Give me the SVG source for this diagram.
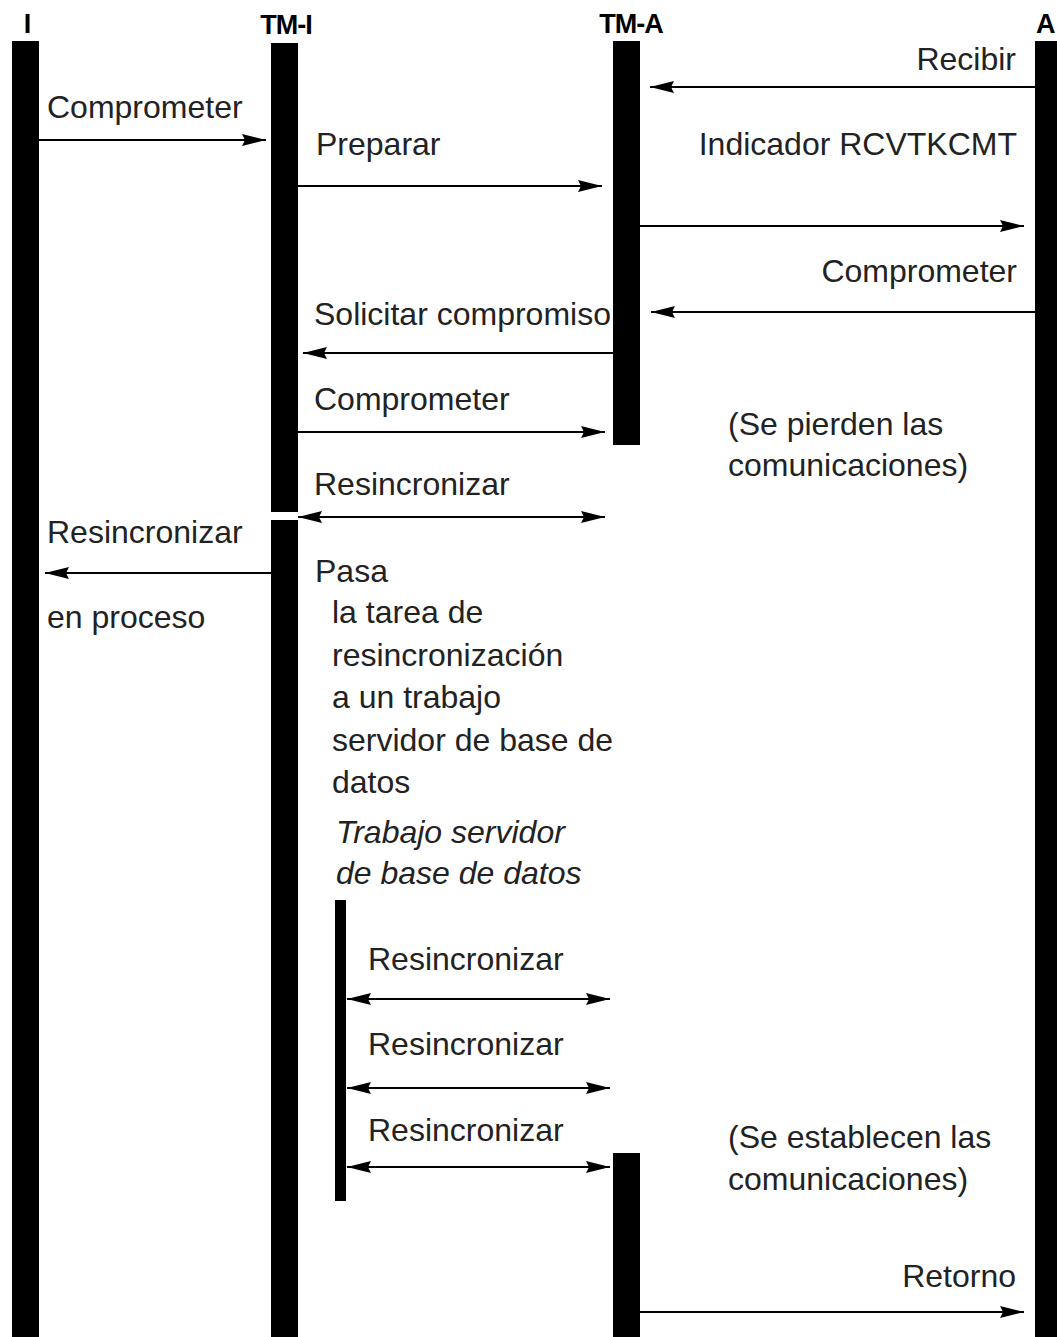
<svg xmlns="http://www.w3.org/2000/svg" width="1057" height="1337" viewBox="0 0 1057 1337">
<style>
.t{font-family:"Liberation Sans",Arial,sans-serif;font-size:32px;fill:#222}
.i{font-style:italic}
.h{font-family:"Liberation Sans",Arial,sans-serif;font-size:27px;font-weight:bold;fill:#000;letter-spacing:-1px}
.bar{fill:#000}
.c{stroke:#000;stroke-width:2;fill:none}
.e{marker-end:url(#ah)}
.s{marker-start:url(#ah)}
</style>
<defs>
<marker id="ah" viewBox="0 0 24 14" refX="24" refY="7" markerWidth="24" markerHeight="14" orient="auto-start-reverse" markerUnits="userSpaceOnUse">
<path d="M0,1 L24,7 L0,13 L3,7 Z" fill="#000"/>
</marker>
</defs>
<rect width="1057" height="1337" fill="#fff"/>

<g id="I">
<text class="h" x="27" y="33" text-anchor="middle">I</text>
<rect class="bar" x="12" y="41" width="27" height="1296"/>
</g>
<g id="TM-I">
<text class="h" x="286" y="34" text-anchor="middle">TM-I</text>
<rect class="bar" x="271" y="43" width="27" height="469"/>
<rect class="bar" x="271" y="520" width="27" height="817"/>
</g>
<g id="TM-A">
<text class="h" x="631" y="33" text-anchor="middle">TM-A</text>
<rect class="bar" x="613" y="41" width="27" height="404"/>
<rect class="bar" x="613" y="1153" width="27" height="184"/>
</g>
<g id="A">
<text class="h" x="1036" y="33">A</text>
<rect class="bar" x="1035" y="41" width="22" height="1296"/>
</g>
<g id="DBServer">
<text class="t i" x="336" y="843">Trabajo servidor</text>
<text class="t i" x="336" y="884">de base de datos</text>
<rect class="bar" x="335" y="900" width="11" height="301"/>
</g>

<g id="connectors">
<line class="c e" x1="39" y1="140" x2="266" y2="140"/>
<line class="c e" x1="1035" y1="87" x2="650" y2="87"/>
<line class="c e" x1="298" y1="186" x2="602" y2="186"/>
<line class="c e" x1="640" y1="226" x2="1024" y2="226"/>
<line class="c e" x1="1035" y1="312" x2="651" y2="312"/>
<line class="c e" x1="613" y1="353" x2="303" y2="353"/>
<line class="c e" x1="298" y1="432" x2="605" y2="432"/>
<line class="c s e" x1="298" y1="517" x2="605" y2="517"/>
<line class="c e" x1="271" y1="573" x2="45" y2="573"/>
<line class="c s e" x1="347" y1="999" x2="610" y2="999"/>
<line class="c s e" x1="347" y1="1088" x2="610" y2="1088"/>
<line class="c s e" x1="347" y1="1167" x2="610" y2="1167"/>
<line class="c e" x1="640" y1="1312" x2="1024" y2="1312"/>
</g>

<g id="labels">
<text class="t" x="47" y="118">Comprometer</text>
<text class="t" x="1016" y="70" text-anchor="end">Recibir</text>
<text class="t" x="316" y="155">Preparar</text>
<text class="t" x="1017" y="155" text-anchor="end">Indicador RCVTKCMT</text>
<text class="t" x="1017" y="282" text-anchor="end">Comprometer</text>
<text class="t" x="314" y="325">Solicitar compromiso</text>
<text class="t" x="314" y="410">Comprometer</text>
<text class="t" x="314" y="495">Resincronizar</text>
<text class="t" x="728" y="435">(Se pierden las</text>
<text class="t" x="728" y="476">comunicaciones)</text>
<text class="t" x="47" y="543">Resincronizar</text>
<text class="t" x="47" y="628">en proceso</text>
<text class="t" x="315" y="582">Pasa</text>
<text class="t" x="332" y="623">la tarea de</text>
<text class="t" x="332" y="666">resincronización</text>
<text class="t" x="332" y="708">a un trabajo</text>
<text class="t" x="332" y="751">servidor de base de</text>
<text class="t" x="332" y="793">datos</text>
<text class="t" x="368" y="970">Resincronizar</text>
<text class="t" x="368" y="1055">Resincronizar</text>
<text class="t" x="368" y="1141">Resincronizar</text>
<text class="t" x="728" y="1148">(Se establecen las</text>
<text class="t" x="728" y="1190">comunicaciones)</text>
<text class="t" x="1016" y="1287" text-anchor="end">Retorno</text>
</g>
</svg>
